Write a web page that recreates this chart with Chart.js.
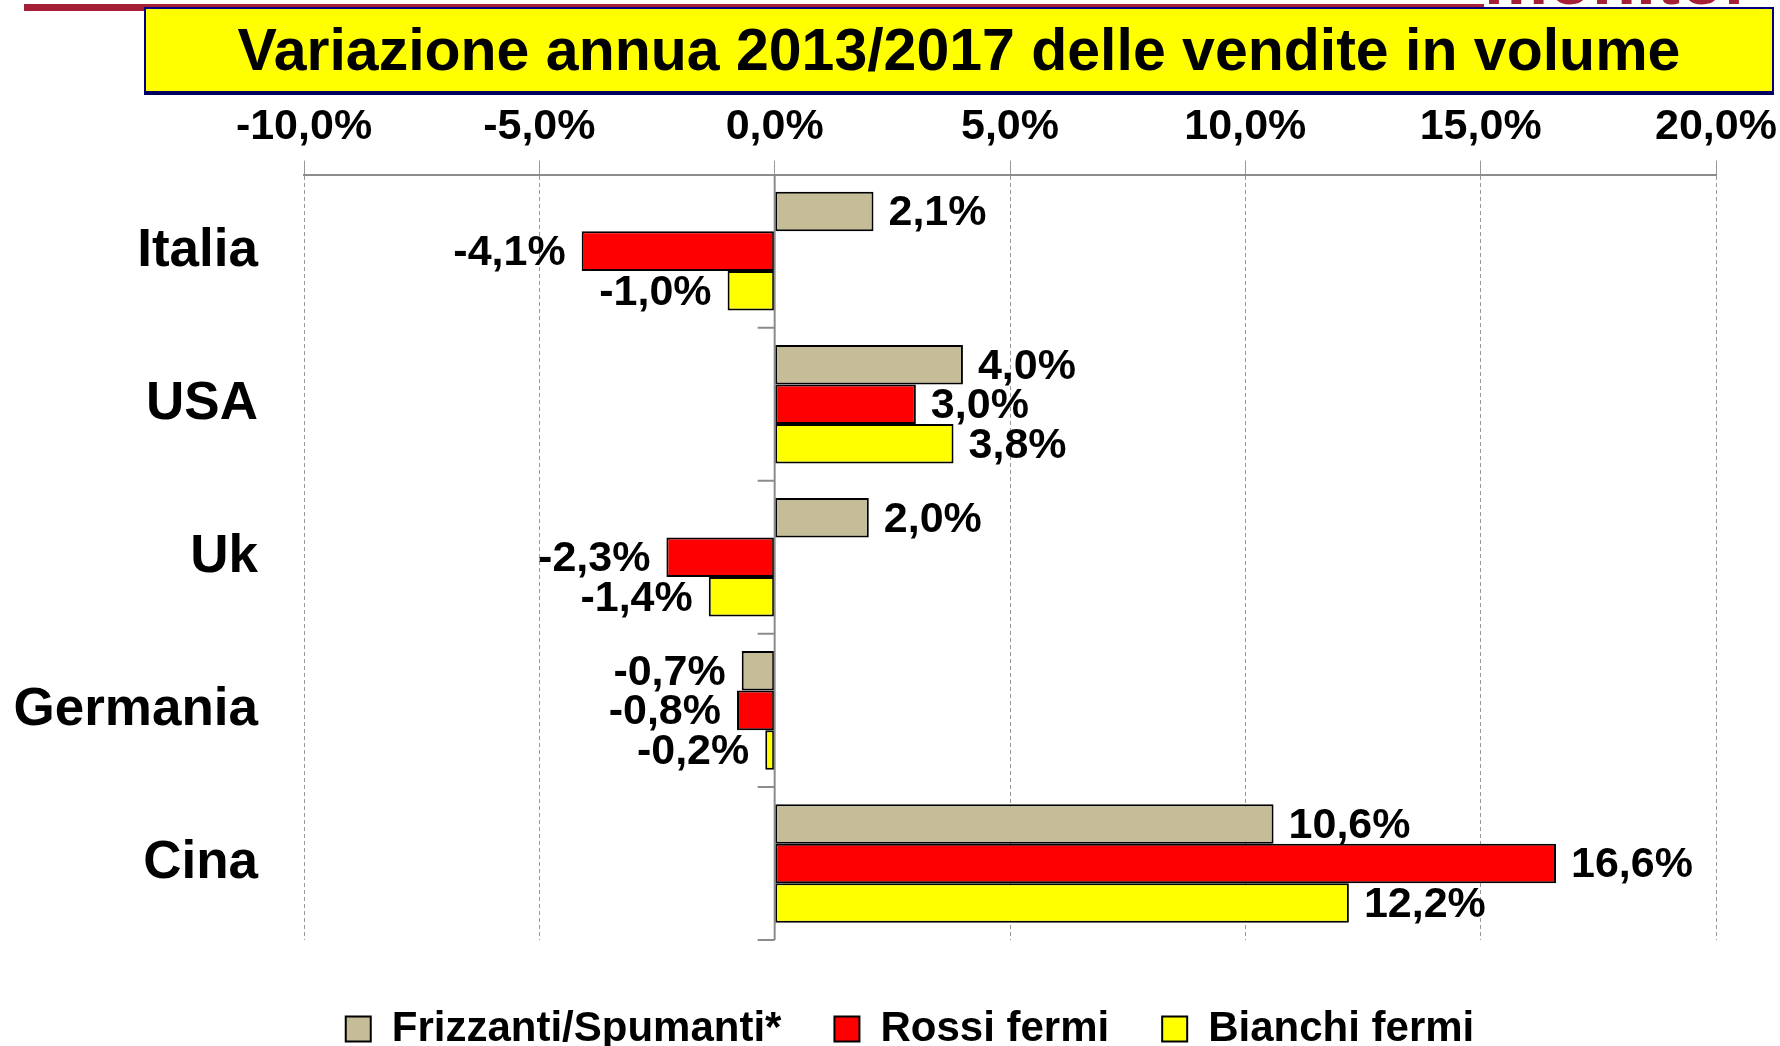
<!DOCTYPE html>
<html>
<head>
<meta charset="utf-8">
<script src="https://cdn.jsdelivr.net/npm/chart.js@4.4.1/dist/chart.umd.min.js"></script>
<style>
  html, body { margin: 0; padding: 0; background: #fff; overflow: hidden; }
  #wrap { position: relative; width: 1780px; height: 1046px; overflow: hidden; }
  #chart { position: absolute; left: 0; top: 0; }
  #brandBar { position: absolute; left: 24px; top: 4px; width: 1460px; height: 7px; background: #A51F36; }
  #brand { position: absolute; left: 1484px; top: -62px; font: bold 72px "Liberation Sans", Arial, sans-serif; color: #A51F36; }
  #title {
    position: absolute; left: 144px; top: 7px; width: 1630px; height: 88px; box-sizing: border-box;
    background: #FFFF00; border: 2px solid #000080; border-bottom: 4px solid #000060;
    font: bold 59px "Liberation Sans", Arial, sans-serif; color: #000;
    display: flex; align-items: center; justify-content: center;
  }
</style>
</head>
<body>
<div id="wrap">
  <canvas id="chart" width="1780" height="1060"></canvas>
  <div id="brandBar"></div>
  <div id="brand">monitor</div>
  <div id="title">Variazione annua 2013/2017 delle vendite in volume</div>
</div>
<script>
const categories = ['Italia', 'USA', 'Uk', 'Germania', 'Cina'];
const seriesNames = ['Frizzanti/Spumanti*', 'Rossi fermi', 'Bianchi fermi'];
const frizzanti = [2.1, 4.0, 2.0, -0.7, 10.6];
const rossi = [-4.1, 3.0, -2.3, -0.8, 16.6];
const bianchi = [-1.0, 3.8, -1.4, -0.2, 12.2];
const xTicks = [-10, -5, 0, 5, 10, 15, 20];

const FONT = '"Liberation Sans", Arial, sans-serif';
const fmt = v => v.toFixed(1).replace('.', ',') + '%';

// etichette valori a fine barra
const valueLabels = {
  id: 'valueLabels',
  afterDatasetsDraw(chart) {
    const ctx = chart.ctx;
    ctx.save();
    ctx.font = 'bold 43px ' + FONT;
    ctx.fillStyle = '#000';
    ctx.textBaseline = 'middle';
    chart.data.datasets.forEach((ds, i) => {
      chart.getDatasetMeta(i).data.forEach((bar, j) => {
        const v = ds.data[j];
        if (v >= 0) {
          ctx.textAlign = 'left';
          ctx.fillText(fmt(v), bar.x + 15, bar.y + 2);
        } else {
          ctx.textAlign = 'right';
          ctx.fillText(fmt(v), bar.x - 16, bar.y + 2);
        }
      });
    });
    ctx.restore();
  }
};

// linea dello zero e tacche delle categorie
const zeroAxis = {
  id: 'zeroAxis',
  afterDatasetsDraw(chart) {
    const { ctx, chartArea, scales } = chart;
    const x0 = scales.x.getPixelForValue(0);
    const y = scales.y;
    const step = y.getPixelForValue(1) - y.getPixelForValue(0);
    ctx.save();
    ctx.strokeStyle = '#8c8c8c';
    ctx.lineWidth = 2;
    ctx.beginPath();
    ctx.moveTo(x0, chartArea.top);
    ctx.lineTo(x0, chartArea.bottom);
    for (let i = 1; i <= categories.length; i++) {
      const yy = y.getPixelForValue(i) - step / 2;
      ctx.moveTo(x0 - 17, yy);
      ctx.lineTo(x0, yy);
    }
    ctx.stroke();
    ctx.restore();
  }
};

// sposta la legenda un po' a destra come nell'originale
const legendShift = {
  id: 'legendShift',
  afterLayout(chart) {
    if (chart.legend) {
      chart.legend.left += 40;
      chart.legend.right += 64;
    }
  }
};

new Chart(document.getElementById('chart').getContext('2d'), {
  type: 'bar',
  data: {
    labels: categories,
    datasets: [
      { label: seriesNames[0], data: frizzanti, backgroundColor: '#C4BD97' },
      { label: seriesNames[1], data: rossi, backgroundColor: '#FF0000' },
      { label: seriesNames[2], data: bianchi, backgroundColor: '#FFFF00' }
    ]
  },
  options: {
    indexAxis: 'y',
    responsive: false,
    animation: false,
    layout: { padding: { top: 93, left: 0, right: 64, bottom: 0 } },
    datasets: {
      bar: {
        borderColor: '#000',
        borderWidth: 2,
        borderSkipped: false,
        categoryPercentage: 0.775,
        barPercentage: 1
      }
    },
    scales: {
      x: {
        position: 'top',
        min: -10,
        max: 20,
        afterBuildTicks: s => { s.ticks = xTicks.map(v => ({ value: v })); },
        afterFit: s => { s.paddingRight = 0; s.paddingLeft = 0; },
        ticks: {
          color: '#000',
          font: { family: FONT, size: 43, weight: 'bold' },
          padding: 8,
          maxRotation: 0,
          callback: v => fmt(v)
        },
        grid: {
          color: ctx => ctx.tick && ctx.tick.value === 0 ? 'rgba(0,0,0,0)' : '#999',
          lineWidth: 1,
          tickLength: 14,
          tickColor: '#999'
        },
        border: { display: true, color: '#8c8c8c', width: 2, dash: [4, 3] }
      },
      // asse vuoto per distanziare la legenda
      gap: {
        type: 'linear',
        axis: 'x',
        position: 'bottom',
        min: -10,
        max: 20,
        afterFit: s => { s.height = 15; s.paddingRight = 0; s.paddingLeft = 0; },
        ticks: { display: false },
        grid: { display: false },
        border: { display: false }
      },
      y: {
        position: 'left',
        afterFit: s => { s.width = 304; },
        ticks: {
          color: '#000',
          font: { family: FONT, size: 53, weight: 'bold' },
          padding: 46
        },
        grid: { display: false, drawTicks: false },
        border: { display: false }
      }
    },
    plugins: {
      legend: {
        position: 'bottom',
        labels: {
          color: '#000',
          font: { family: FONT, size: 42, weight: 'bold' },
          boxWidth: 25,
          boxHeight: 25,
          padding: 53
        }
      },
      tooltip: { enabled: false }
    }
  },
  plugins: [valueLabels, zeroAxis, legendShift]
});
</script>
</body>
</html>
